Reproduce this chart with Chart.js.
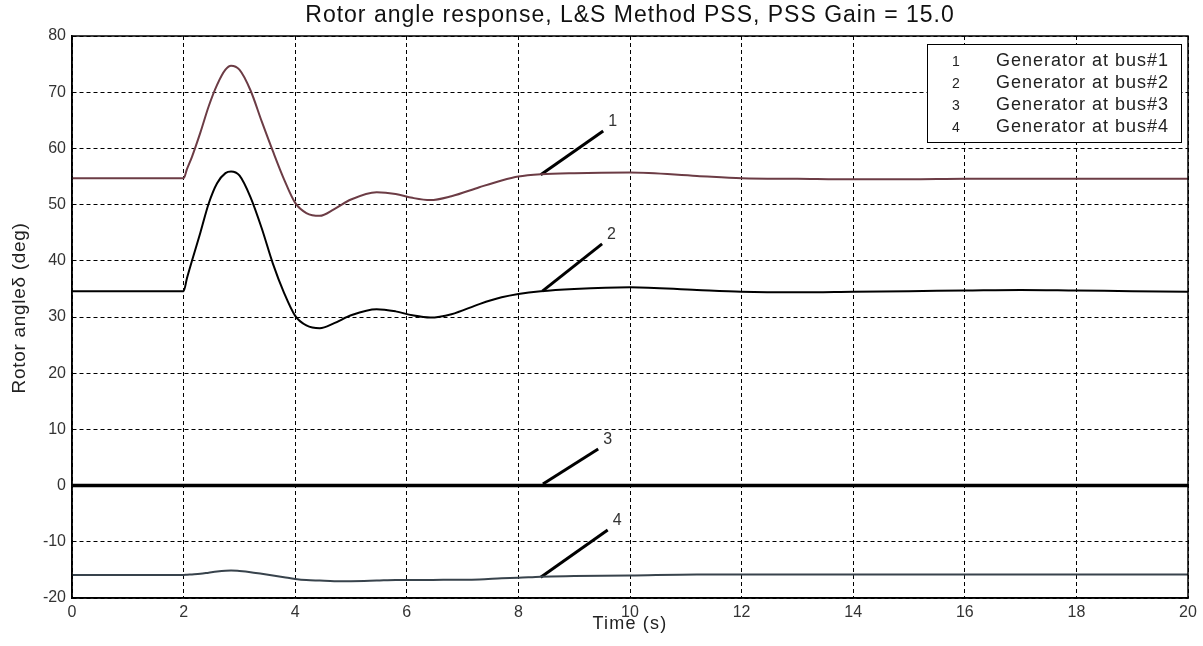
<!DOCTYPE html>
<html>
<head>
<meta charset="utf-8">
<title>Rotor angle response</title>
<script src="https://cdn.jsdelivr.net/npm/chart.js@4.4.1/dist/chart.umd.min.js"></script>
<style>
  html, body { margin: 0; padding: 0; background: #fff; }
  canvas { display: block; }
</style>
</head>
<body>
<canvas id="rotorChart" width="1203" height="646"></canvas>
<script>
// sample times (s)
const timeS = [0, 2, 2.06, 2.15, 2.3, 2.45, 2.6, 2.75, 2.85, 3.0, 3.2, 3.4, 3.6, 3.8, 4.0, 4.2, 4.44, 4.7, 5.0, 5.46, 5.8, 6.1, 6.42, 6.8, 7.3, 7.7, 8.0, 8.4, 9.0, 10.0, 11.2, 12, 13, 14, 15, 16, 17, 18, 19, 20];

// rotor angle (deg) per generator
const gen1 = [54.7, 54.7, 56.3, 58.5, 62.8, 67.5, 71.3, 74.0, 74.7, 74.0, 70.3, 64.8, 59.5, 54.5, 50.3, 48.5, 48.0, 49.2, 50.9, 52.2, 51.9, 51.2, 50.8, 51.5, 53.1, 54.3, 55.0, 55.4, 55.6, 55.7, 55.1, 54.7, 54.6, 54.5, 54.5, 54.6, 54.6, 54.6, 54.6, 54.6];
const gen2 = [34.6, 34.6, 36.9, 40.0, 45.0, 50.2, 53.8, 55.6, 55.9, 55.2, 51.3, 45.8, 39.5, 34.3, 30.2, 28.5, 28.0, 28.9, 30.3, 31.4, 31.0, 30.3, 29.9, 30.5, 32.3, 33.5, 34.1, 34.6, 35.0, 35.3, 34.8, 34.5, 34.4, 34.5, 34.6, 34.7, 34.8, 34.7, 34.6, 34.5];
const gen3 = [0, 0, 0, 0, 0, 0, 0, 0, 0, 0, 0, 0, 0, 0, 0, 0, 0, 0, 0, 0, 0, 0, 0, 0, 0, 0, 0, 0, 0, 0, 0, 0, 0, 0, 0, 0, 0, 0, 0, 0];
const gen4 = [-15.9, -15.9, -15.85, -15.8, -15.7, -15.5, -15.3, -15.15, -15.1, -15.2, -15.4, -15.7, -16.0, -16.3, -16.6, -16.8, -16.9, -17.0, -17.0, -16.9, -16.8, -16.8, -16.8, -16.75, -16.7, -16.5, -16.4, -16.2, -16.1, -16.0, -15.8, -15.8, -15.8, -15.8, -15.8, -15.8, -15.8, -15.8, -15.8, -15.8];

const seriesNames = ['Generator at bus#1', 'Generator at bus#2', 'Generator at bus#3', 'Generator at bus#4'];
const seriesTags = ['1', '2', '3', '4'];
const seriesColors = ['#6c3c45', '#000000', '#000000', '#38434c'];
const seriesWidths = [2, 2, 3.5, 2];

// leader lines pointing at each curve (data units)
const leadX0 = [8.4, 8.43, 8.44, 8.4];
const leadY0 = [55.3, 34.6, 0.3, -16.3];
const leadX1 = [9.52, 9.5, 9.43, 9.6];
const leadY1 = [63.1, 43.0, 6.5, -7.9];

const xTicks = { min: 0, max: 20, step: 2 };
const yTicks = { min: -20, max: 80, step: 10 };

const FONT = '"Liberation Sans", Arial, sans-serif';

const toPoints = vals => vals.map((v, i) => ({ x: timeS[i], y: v }));

const datasets = [gen1, gen2, gen3, gen4].map((vals, i) => ({
  label: seriesNames[i],
  data: toPoints(vals),
  borderColor: seriesColors[i],
  borderWidth: seriesWidths[i],
  pointRadius: 0,
  cubicInterpolationMode: 'monotone',
  fill: false
}));

leadX0.forEach((x0, i) => {
  datasets.push({
    label: 'lead' + seriesTags[i],
    data: [{ x: x0, y: leadY0[i] }, { x: leadX1[i], y: leadY1[i] }],
    borderColor: '#000',
    borderWidth: 3,
    pointRadius: 0,
    tension: 0,
    fill: false
  });
});

// title, axis titles, frame, leader numbers and legend box
const decorPlugin = {
  id: 'decor',
  afterDatasetsDraw(chart) {
    const { ctx, chartArea: a, scales } = chart;
    ctx.save();

    // box around the axes
    ctx.setLineDash([]);
    ctx.strokeStyle = '#000';
    ctx.lineWidth = 1.5;
    ctx.strokeRect(a.left, a.top, a.right - a.left, a.bottom - a.top);

    // numbers at the end of leader lines
    ctx.fillStyle = '#333';
    ctx.font = '16px ' + FONT;
    ctx.textAlign = 'left';
    ctx.textBaseline = 'bottom';
    seriesTags.forEach((tag, i) => {
      const px = scales.x.getPixelForValue(leadX1[i]);
      const py = scales.y.getPixelForValue(leadY1[i]);
      ctx.fillText(tag, px + 5, py - 1);
    });

    // legend
    const bx = a.right - 261, by = a.top + 8, bw = 254, bh = 98;
    ctx.fillStyle = '#fff';
    ctx.fillRect(bx, by, bw, bh);
    ctx.strokeStyle = '#000';
    ctx.lineWidth = 1;
    ctx.strokeRect(bx + 0.5, by + 0.5, bw, bh);
    ctx.textBaseline = 'alphabetic';
    seriesNames.forEach((name, i) => {
      const y = by + 22 + i * 22;
      ctx.fillStyle = '#222';
      ctx.letterSpacing = '0px';
      ctx.font = '14px ' + FONT;
      ctx.fillText(seriesTags[i], bx + 25, y);
      ctx.letterSpacing = '1px';
      ctx.font = '18px ' + FONT;
      ctx.fillText(name, bx + 69, y);
    });

    // chart title
    ctx.fillStyle = '#111';
    ctx.font = '23px ' + FONT;
    ctx.letterSpacing = '1px';
    ctx.textAlign = 'center';
    ctx.textBaseline = 'middle';
    ctx.fillText('Rotor angle response, L&S Method PSS, PSS Gain = 15.0', (a.left + a.right) / 2, 16);

    // axis titles
    ctx.fillStyle = '#222';
    ctx.font = '18px ' + FONT;
    ctx.letterSpacing = '1.2px';
    ctx.fillText('Time (s)', (a.left + a.right) / 2, 624);

    ctx.font = '19px ' + FONT;
    ctx.letterSpacing = '0.7px';
    ctx.translate(20, 308);
    ctx.rotate(-Math.PI / 2);
    ctx.fillText('Rotor angleδ (deg)', 0, 0);
    ctx.restore();
  }
};

const gridStyle = {
  color: '#000',
  lineWidth: 1,
  drawTicks: false
};

new Chart(document.getElementById('rotorChart'), {
  type: 'line',
  data: { datasets },
  options: {
    responsive: false,
    animation: false,
    layout: { padding: { top: 36, right: 15, left: 0, bottom: 0 } },
    plugins: {
      legend: { display: false },
      title: { display: false },
      tooltip: { enabled: false }
    },
    scales: {
      x: {
        type: 'linear',
        min: xTicks.min,
        max: xTicks.max,
        grid: gridStyle,
        border: { display: true, color: '#000', width: 1.5, dash: [4, 3] },
        ticks: { stepSize: xTicks.step, color: '#333', padding: 5, font: { family: FONT, size: 16 } },
        afterFit(scale) { scale.height = 48; }
      },
      y: {
        min: yTicks.min,
        max: yTicks.max,
        grid: gridStyle,
        border: { display: true, color: '#000', width: 1.5, dash: [4, 3] },
        ticks: { stepSize: yTicks.step, color: '#333', padding: 6, font: { family: FONT, size: 16 } },
        afterFit(scale) { scale.width = 72; }
      }
    }
  },
  plugins: [decorPlugin]
});
</script>
</body>
</html>
